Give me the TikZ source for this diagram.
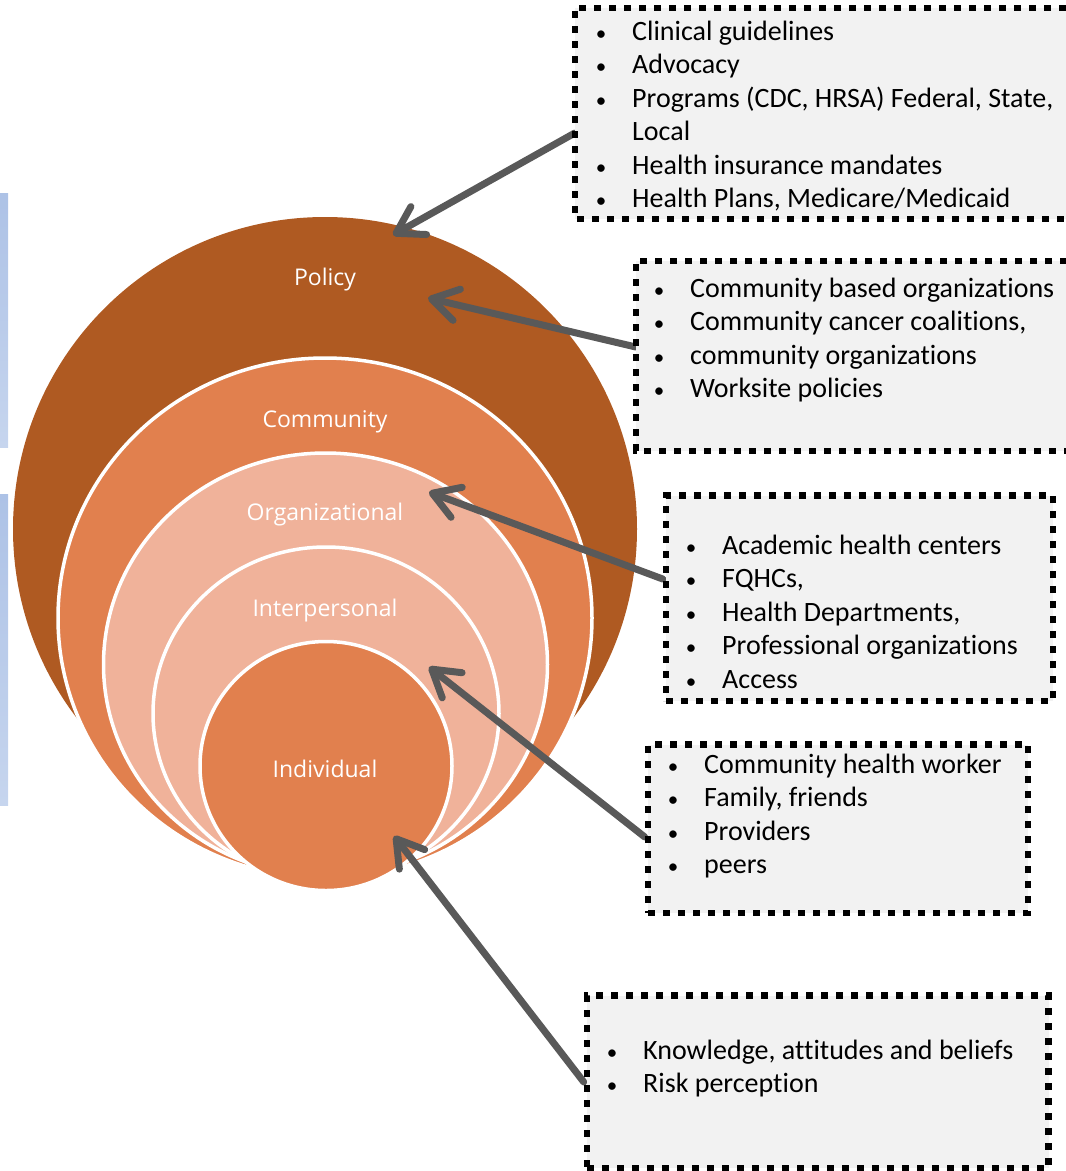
\documentclass[tikz,border=0pt]{standalone}
\usepackage{fontspec}
\newfontfamily\boxfont{Carlito}[Ligatures=NoCommon]
\newfontfamily\ringfont{Open Sans}
\usetikzlibrary{arrows.meta,calc,shapes.geometric}

\definecolor{policyc}{HTML}{AF5A22}
\definecolor{commc}{HTML}{E1804E}
\definecolor{lightc}{HTML}{F0B29A}
\definecolor{arrowc}{HTML}{595959}
\definecolor{boxfill}{HTML}{F2F2F2}
\definecolor{bartop}{HTML}{ADC2E6}
\definecolor{barbot}{HTML}{C6D5EE}

\pgfdeclarelayer{front}
\pgfsetlayers{main,front}

% bulleted line: bullet hangs to the left of the text start
\newcommand\bitem[1]{\hbox{\llap{\makebox[62pt][c]{\fontsize{21pt}{21pt}\selectfont\textbullet}}#1}}
\newcommand\bcont[1]{\hbox{#1}}
\newcommand\blist[1]{\vtop{\baselineskip=33.5pt\lineskiplimit=-100pt #1}}

\begin{document}
\begin{tikzpicture}[x=1pt,y=-1pt,
  ring/.style={ellipse, draw=white, line width=3.5pt, inner sep=0pt},
  ringlabel/.style={text=white, font=\ringfont\fontsize{23pt}{28pt}\selectfont, inner sep=0pt},
  dotline/.style={draw=black, line width=6.5pt, dash pattern=on 7pt off 8pt},
  listbox/.style={rectangle, dotline, fill=boxfill, inner sep=0pt},
  openbox/.style={rectangle, fill=boxfill, inner sep=0pt},
  listtext/.style={anchor=base west, inner sep=0pt,
    font=\boxfont\fontsize{28pt}{33.5pt}\selectfont, text=black},
  pointer/.style={draw=arrowc, line width=7pt, line cap=round,
    -{Straight Barb[length=26pt,width=32pt,round]}}
]
\path[use as bounding box] (0,0) rectangle (1066,1171);

% side bars
\shade[top color=bartop, bottom color=barbot] (0,193) rectangle (8,447);
\shade[top color=bartop, bottom color=barbot] (0,494) rectangle (8,805);

% nested levels
\node[circle, fill=policyc, minimum size=624pt, inner sep=0pt] (policy) at (325,529) {};
\node[ring, fill=commc, minimum width=534pt, minimum height=520pt] (community) at (325,618) {};
\node[ring, fill=lightc, minimum width=444pt, minimum height=423pt] (organizational) at (325.5,664.5) {};
\node[ring, fill=lightc, minimum width=346pt, minimum height=333pt] (interpersonal) at (326,713.5) {};
\node[ring, fill=commc, minimum width=252pt, minimum height=249pt] (individual) at (326,766) {};

\node[ringlabel] (lpolicy) at (325,280) {Policy};
\node[ringlabel] (lcommunity) at (325,422) {Community};
\node[ringlabel] (lorganizational) at (325,515) {Organizational};
\node[ringlabel] (linterpersonal) at (325,611) {Interpersonal};
\node[ringlabel] (lindividual) at (325,769) {Individual};

% list boxes, kept in front of the arrow ends
\begin{pgfonlayer}{front}
% the two upper boxes run on past the right edge: no right side
\node[openbox, minimum width=491pt, minimum height=211pt] (b1) at (820.5,113.5) {};
\draw[dotline] (b1.north east) -- (b1.north west) -- (b1.south west) -- (b1.south east);
\node[openbox, minimum width=431pt, minimum height=190pt] (b2) at (851.5,356) {};
\draw[dotline] (b2.north east) -- (b2.north west) -- (b2.south west) -- (b2.south east);
\node[listbox, minimum width=387pt, minimum height=205.5pt] (b3) at (859.5,598.25) {};
\node[listbox, minimum width=380pt, minimum height=168.5pt] (b4) at (838,828.75) {};
\node[listbox, minimum width=461.5pt, minimum height=172.5pt] (b5) at (817.75,1081.75) {};
\end{pgfonlayer}

% arrow ends
\coordinate (t1) at (393,235);
\coordinate (t2) at (428,298);
\coordinate (t3) at (429,492);
\coordinate (t4) at (429,667);
\coordinate (t5) at (394,836);
\coordinate (s1) at (b1.west |- 0,133);
\coordinate (s2) at (b2.west |- 0,347);
\coordinate (s3) at (b3.west |- 0,579);
\coordinate (s4) at (b4.west |- 0,837);
\coordinate (s5) at (b5.west |- 0,1082);

\draw[pointer] (s1) -- (t1);
\draw[pointer] (s2) -- (t2);
\draw[pointer] (s3) -- (t3);
\draw[pointer] (s4) -- (t4);
\draw[pointer] (s5) -- (t5);

% list texts
\begin{pgfonlayer}{front}
\node[listtext] (x1) at (632,40) {\blist{%
  \bitem{Clinical guidelines}
  \bitem{Advocacy}
  \bitem{Programs (CDC, HRSA) Federal, State,}
  \bcont{Local}
  \bitem{Health insurance mandates}
  \bitem{Health Plans, Medicare/Medicaid}}};
\node[listtext] (x2) at (690,297) {\blist{%
  \bitem{Community based organizations}
  \bitem{Community cancer coalitions,}
  \bitem{community organizations}
  \bitem{Worksite policies}}};
\node[listtext] (x3) at (722,554) {\blist{%
  \bitem{Academic health centers}
  \bitem{FQHCs,}
  \bitem{Health Departments,}
  \bitem{Professional organizations}
  \bitem{Access}}};
\node[listtext] (x4) at (704,773) {\blist{%
  \bitem{Community health worker}
  \bitem{Family, friends}
  \bitem{Providers}
  \bitem{peers}}};
\node[listtext] (x5) at (643,1059) {\blist{%
  \bitem{Knowledge, attitudes and beliefs}
  \bitem{Risk perception}}};
\end{pgfonlayer}
\end{tikzpicture}
\end{document}
